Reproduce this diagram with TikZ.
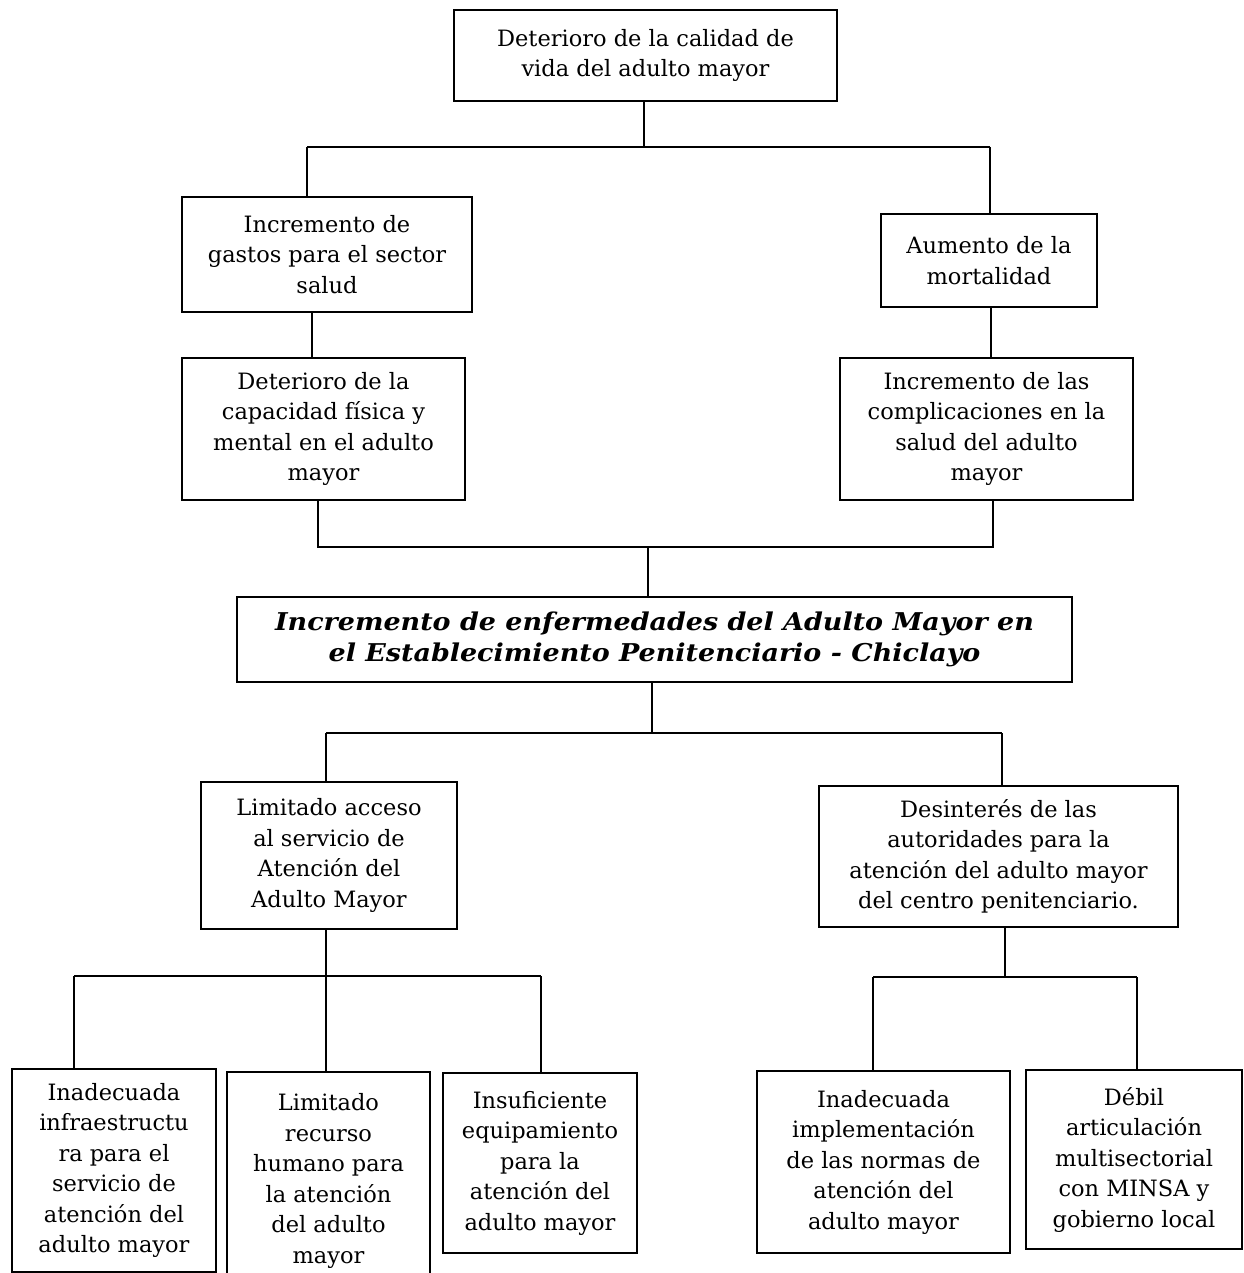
\documentclass[tikz,border=0pt]{standalone}
\usepackage{fontspec}
\setmainfont{DejaVu Serif}
\newfontfamily\mainbifont{DejaVu Serif}[FakeStretch=1.1]
\begin{document}
\begin{tikzpicture}[x=1pt,y=-1pt,
  box/.style={draw=black, line width=1.9pt, rectangle, inner sep=0pt, align=center,
    font=\fontsize{22.5}{30.5}\selectfont},
  mainbox/.style={box, font=\mainbifont\fontsize{24.5}{31.5}\selectfont\bfseries\itshape},
  conn/.style={draw=black, line width=1.2pt}]
\clip (0,0) rectangle (1243,1273);
\fill[white] (0,0) rectangle (1243,1273);
% boxes
\node[box, minimum width=383pt, minimum height=91pt] (b1) at (645.5,55.5) {Deterioro de la calidad de\\vida del adulto mayor};
\node[box, minimum width=290pt, minimum height=115pt] (b2) at (327,254.5) {Incremento de\\gastos para el sector\\salud};
\node[box, minimum width=216pt, minimum height=93pt] (b3) at (989,260.5) {Aumento de la\\mortalidad};
\node[box, minimum width=283pt, minimum height=142pt] (b4) at (323.5,429) {Deterioro de la\\capacidad física y\\mental en el adulto\\mayor};
\node[box, minimum width=293pt, minimum height=142pt] (b5) at (986.5,429) {Incremento de las\\complicaciones en la\\salud del adulto\\mayor};
\node[mainbox, minimum width=835pt, minimum height=85pt] (b6) at (654.5,639.5) {Incremento de enfermedades del Adulto Mayor en\\el Establecimiento Penitenciario - Chiclayo};
\node[box, minimum width=256pt, minimum height=147pt] (b7) at (329,855.5) {Limitado acceso\\al servicio de\\Atención del\\Adulto Mayor};
\node[box, minimum width=359pt, minimum height=141pt] (b8) at (998.5,856.5) {Desinterés de las\\autoridades para la\\atención del adulto mayor\\del centro penitenciario.};
\node[box, minimum width=204pt, minimum height=203pt] (b9) at (114,1170.5) {Inadecuada\\infraestructu\\ra para el\\servicio de\\atención del\\adulto mayor};
\node[box, minimum width=203pt, minimum height=218pt] (b10) at (328.5,1181) {Limitado\\recurso\\humano para\\la atención\\del adulto\\mayor};
\node[box, minimum width=194pt, minimum height=180pt] (b11) at (540,1163) {Insuficiente\\equipamiento\\para la\\atención del\\adulto mayor};
\node[box, minimum width=253pt, minimum height=182pt] (b12) at (883.5,1162) {Inadecuada\\implementación\\de las normas de\\atención del\\adulto mayor};
\node[box, minimum width=216pt, minimum height=179pt] (b13) at (1134,1159.5) {Débil\\articulación\\multisectorial\\con MINSA y\\gobierno local};
% junction coordinates
\coordinate (j1) at (644,147);
\coordinate (j1l) at (307,147);
\coordinate (j1r) at (990,147);
\coordinate (j2l) at (318,547);
\coordinate (j2r) at (993,547);
\coordinate (j2) at (648,547);
\coordinate (j3) at (652,733);
\coordinate (j3l) at (326,733);
\coordinate (j3r) at (1002,733);
\coordinate (j4) at (326,976);
\coordinate (j4l) at (74,976);
\coordinate (j4r) at (541,976);
\coordinate (j5) at (1005,977);
\coordinate (j5l) at (873,977);
\coordinate (j5r) at (1137,977);
% connectors
\draw[conn] (j1 |- b1.south) -- (j1);
\draw[conn] (j1l) -- (j1r);
\draw[conn] (j1l) -- (j1l |- b2.north);
\draw[conn] (j1r) -- (j1r |- b3.north);
\draw[conn] (312,0 |- b2.south) -- (312,0 |- b4.north);
\draw[conn] (991,0 |- b3.south) -- (991,0 |- b5.north);
\draw[conn] (j2l |- b4.south) -- (j2l) -- (j2r) -- (j2r |- b5.south);
\draw[conn] (j2) -- (j2 |- b6.north);
\draw[conn] (j3 |- b6.south) -- (j3);
\draw[conn] (j3l) -- (j3r);
\draw[conn] (j3l) -- (j3l |- b7.north);
\draw[conn] (j3r) -- (j3r |- b8.north);
\draw[conn] (j4 |- b7.south) -- (j4 |- b10.north);
\draw[conn] (j4l) -- (j4r);
\draw[conn] (j4l) -- (j4l |- b9.north);
\draw[conn] (j4r) -- (j4r |- b11.north);
\draw[conn] (j5 |- b8.south) -- (j5);
\draw[conn] (j5l) -- (j5r);
\draw[conn] (j5l) -- (j5l |- b12.north);
\draw[conn] (j5r) -- (j5r |- b13.north);
\end{tikzpicture}
\end{document}
